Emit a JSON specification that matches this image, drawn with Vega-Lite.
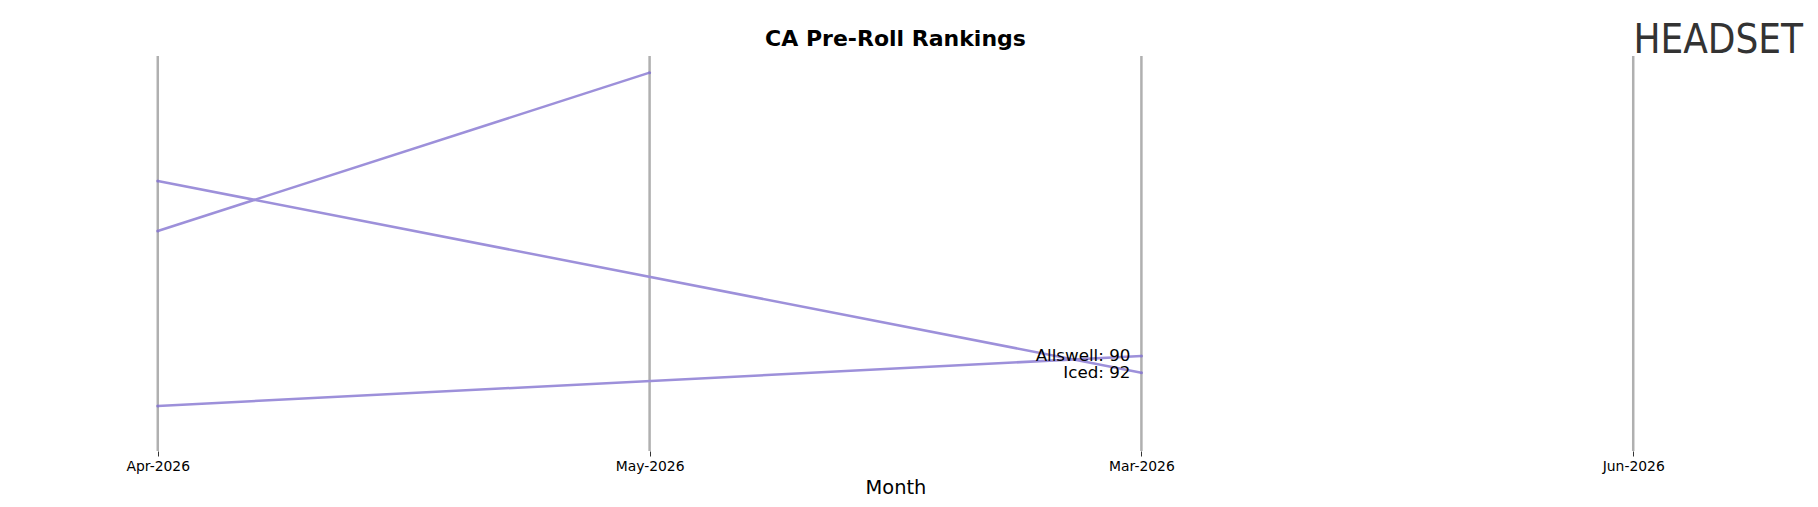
{
  "$schema": "https://vega.github.io/schema/vega-lite/v6.json",
  "autosize": {"type": "none"},
  "width": 1623,
  "height": 395,
  "padding": {"left": 84, "top": 56, "right": 111, "bottom": 56},
  "background": "white",
  "config": {"view": {"stroke": null}, "font": "DejaVu Sans"},
  "title": {"text": "CA Pre-Roll Rankings", "fontSize": 22, "fontWeight": "bold", "font": "DejaVu Sans", "color": "black", "anchor": "middle", "offset": 11, "baseline": "alphabetic", "dy": 58},
  "datasets": {
    "months": [{"month": "Apr-2026"}, {"month": "May-2026"}, {"month": "Mar-2026"}, {"month": "Jun-2026"}],
    "ranks": [
      {"brand": "Other", "month": "Apr-2026", "rank": 75},
      {"brand": "Other", "month": "May-2026", "rank": 56},
      {"brand": "Iced", "month": "Apr-2026", "rank": 69},
      {"brand": "Iced", "month": "Mar-2026", "rank": 92},
      {"brand": "Allswell", "month": "Apr-2026", "rank": 96},
      {"brand": "Allswell", "month": "Mar-2026", "rank": 90}
    ],
    "labels": [
      {"brand": "Allswell", "month": "Mar-2026", "rank": 90, "label": "Allswell: 90"},
      {"brand": "Iced", "month": "Mar-2026", "rank": 92, "label": "Iced: 92"}
    ],
    "logo": [{"month": "Jun-2026", "rank": 52.2, "label": "HEADSET"}]
  },
  "encoding": {
    "x": {
      "field": "month", "type": "ordinal",
      "scale": {"type": "point", "domain": ["Apr-2026", "May-2026", "Mar-2026", "Jun-2026"], "padding": 0.15},
      "axis": {"title": "Month", "titleFontSize": 19.4, "titleFontWeight": "normal", "titleColor": "black", "titleFont": "DejaVu Sans", "labelFont": "DejaVu Sans", "labelFontSize": 13.9, "labelColor": "black", "labelAngle": 0, "domain": false, "ticks": true, "tickColor": "#333333", "tickSize": 5, "tickWidth": 1, "labelPadding": 3, "titlePadding": 6, "grid": false}
    }
  },
  "layer": [
    {
      "data": {"name": "months"},
      "mark": {"type": "rule", "color": "#b0b0b0", "strokeWidth": 2.5}
    },
    {
      "data": {"name": "ranks"},
      "mark": {"type": "line", "color": "#9d90da", "strokeWidth": 2.5},
      "encoding": {
        "y": {"field": "rank", "type": "quantitative", "scale": {"domain": [54, 101.4], "reverse": true, "zero": false, "nice": false}, "axis": null},
        "detail": {"field": "brand"}
      }
    },
    {
      "data": {"name": "ranks"},
      "mark": {"type": "point", "filled": true, "color": "#8a7ccc", "size": 9, "opacity": 1},
      "encoding": {
        "y": {"field": "rank", "type": "quantitative"}
      }
    },
    {
      "data": {"name": "labels"},
      "mark": {"type": "text", "align": "right", "baseline": "middle", "dx": -11, "fontSize": 16.7, "font": "DejaVu Sans", "color": "black"},
      "encoding": {
        "y": {"field": "rank", "type": "quantitative"},
        "text": {"field": "label"}
      }
    },
    {
      "data": {"name": "logo"},
      "mark": {"type": "text", "align": "center", "baseline": "middle", "dx": 85, "fontSize": 40, "font": "'DejaVu Sans Condensed', 'Liberation Sans', sans-serif", "color": "#333333", "clip": false},
      "encoding": {
        "y": {"field": "rank", "type": "quantitative"},
        "text": {"field": "label"}
      }
    }
  ]
}
